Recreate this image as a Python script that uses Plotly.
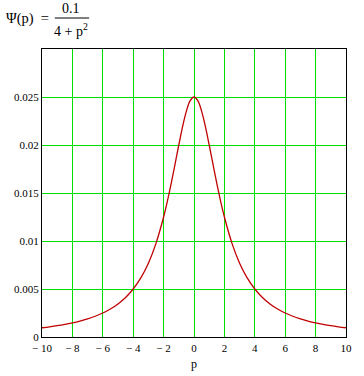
import plotly.graph_objects as go

p_vals = [-10, -9.5, -9, -8.5, -8, -7.5, -7, -6.5, -6, -5.5, -5, -4.5, -4, -3.5, -3, -2.5,
          -2, -1.75, -1.5, -1.25, -1, -0.75, -0.5, -0.25, 0, 0.25, 0.5, 0.75, 1, 1.25, 1.5, 1.75,
          2, 2.5, 3, 3.5, 4, 4.5, 5, 5.5, 6, 6.5, 7, 7.5, 8, 8.5, 9, 9.5, 10]
psi_right = [0.025, 0.024615, 0.023529, 0.021918, 0.02, 0.017978, 0.016, 0.014159,
             0.0125, 0.009756, 0.007692, 0.006154, 0.005, 0.004124, 0.003448, 0.00292,
             0.0025, 0.002162, 0.001887, 0.00166, 0.001471, 0.001311, 0.001176, 0.001061, 0.000962]
psi_vals = psi_right[:0:-1] + psi_right

x_ticks = [-10, -8, -6, -4, -2, 0, 2, 4, 6, 8, 10]
x_tick_text = ["\u2212 10", "\u2212 8", "\u2212 6", "\u2212 4", "\u2212 2", "0", "2", "4", "6", "8", "10"]
y_ticks = [0, 0.005, 0.01, 0.015, 0.02, 0.025]
y_tick_text = ["0", "0.005", "0.01", "0.015", "0.02", "0.025"]

serif = "Liberation Serif, Times New Roman, serif"

fig = go.Figure()
fig.add_trace(go.Scatter(x=p_vals, y=psi_vals, mode="lines",
                         line=dict(color="#c00000", width=1.3, shape="spline"),
                         showlegend=False, hoverinfo="skip"))

fig.update_layout(
    width=364, height=376,
    margin=dict(l=42, r=12, t=49, b=39),
    paper_bgcolor="white", plot_bgcolor="white",
    font=dict(family=serif, size=11, color="black"),
    xaxis=dict(range=[-10, 10], tickvals=x_ticks, ticktext=x_tick_text,
               showgrid=True, gridcolor="#00e000", gridwidth=1,
               showline=True, linecolor="black", linewidth=1.2, mirror=True,
               zeroline=False, ticks="", ticklen=0, ticklabelstandoff=1),
    yaxis=dict(range=[0, 0.03], tickvals=y_ticks, ticktext=y_tick_text,
               showgrid=True, gridcolor="#00e000", gridwidth=1,
               showline=True, linecolor="black", linewidth=1.2, mirror=True,
               zeroline=False, ticks="", ticklen=0),
)

fig.add_annotation(text="p", xref="paper", yref="paper", x=0.5, y=0.0,
                   xanchor="center", yanchor="middle", yshift=-27, showarrow=False,
                   font=dict(family=serif, size=12))
fig.add_annotation(text="\u03a8(p) &nbsp;=", xref="paper", yref="paper", x=-0.125, y=1.0,
                   xanchor="left", yanchor="middle", yshift=31, showarrow=False,
                   font=dict(family=serif, size=14.5))
fig.add_annotation(text="0.1", xref="paper", yref="paper", x=0.097, y=1.0,
                   xanchor="center", yanchor="middle", yshift=41, showarrow=False,
                   font=dict(family=serif, size=14))
fig.add_annotation(text="4 + p<sup>2</sup>", xref="paper", yref="paper", x=0.097, y=1.0,
                   xanchor="center", yanchor="middle", yshift=19, showarrow=False,
                   font=dict(family=serif, size=14))
fig.add_shape(type="line", xref="paper", yref="paper", x0=0.042, x1=0.155,
              y0=1.0 + 31/288, y1=1.0 + 31/288, line=dict(color="black", width=1))

fig.write_html("out.html")
